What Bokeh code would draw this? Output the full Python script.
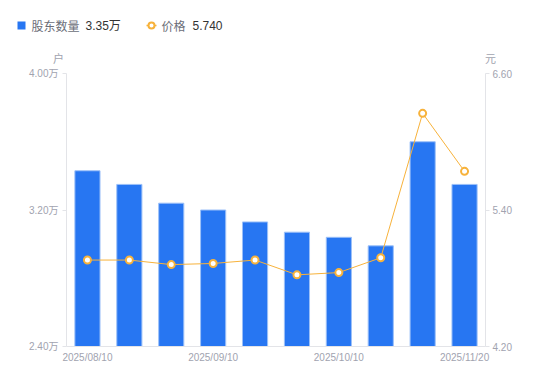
from bokeh.plotting import figure
from bokeh.layouts import column
from bokeh.models import (Range1d, LinearAxis, FixedTicker, PrintfTickFormatter,
                          ColumnDataSource)
from bokeh.core.properties import value
from bokeh.embed import file_html
from bokeh.resources import INLINE

# ---- data ----
dates = ["2025/08/10", "2025/08/20", "2025/08/31", "2025/09/10", "2025/09/19",
         "2025/09/30", "2025/10/10", "2025/10/20", "2025/10/31", "2025/11/20"]
holders = [3.43, 3.35, 3.24, 3.20, 3.13, 3.07, 3.04, 2.99, 3.60, 3.35]   # 万户
price = [4.96, 4.96, 4.92, 4.93, 4.96, 4.83, 4.85, 4.98, 6.25, 5.74]     # 元
left_ticks = [2.40, 3.20, 4.00]
right_ticks = [4.20, 5.40, 6.60]
label_idx = [0, 3, 6, 9]
legend_names = ["股东数量", "价格"]
legend_values = ["3.35万", "5.740"]
units = ["户", "元"]

FONT = "Liberation Sans, Noto Sans CJK SC"
CJK = "Noto Sans CJK SC, Liberation Sans"
GRAY = "#a1a3af"
AXIS = "#e3e4e8"
BLUE = "#2776f2"
ORANGE = "#f7b23b"
W = 545
HEAD_H = 66

# ---- header (legend + unit labels), pixel-space figure ----
h = figure(width=W, height=HEAD_H, output_backend="svg", toolbar_location=None,
           x_range=Range1d(0, W), y_range=Range1d(HEAD_H, 0),
           min_border=0, x_axis_location=None, y_axis_location=None)
h.frame_align = False
h.outline_line_color = None
h.grid.visible = False
h.border_fill_color = "white"

h.quad(left=[17], right=[25], top=[21], bottom=[29], fill_color=BLUE, line_color=None)
h.segment(x0=[146], y0=[25], x1=[156], y1=[25], line_color=ORANGE, line_width=1.5)
h.scatter(x=[151], y=[25], size=6, marker="circle", fill_color="white",
          line_color=ORANGE, line_width=2)
h.text(x=[31, 161], y=[25, 25], text=legend_names, text_font=value(CJK),
       text_font_size="12px", text_color="#6b6e78", text_baseline="middle")
h.text(x=[85, 192], y=[25, 25], text=legend_values, text_font=value(FONT),
       text_font_size="12px", text_color="#333333", text_baseline="middle")
h.text(x=[58, 490], y=[57, 57], text=units, text_font=value(CJK),
       text_font_size="11px", text_color=GRAY, text_baseline="middle",
       text_align="center")

# ---- main chart ----
xs = list(range(len(dates)))
src = ColumnDataSource(dict(x=xs, holders=holders, price=price,
                            bottom=[left_ticks[0]] * len(xs)))

p = figure(width=W, height=312, output_backend="svg", toolbar_location=None,
           x_range=Range1d(-0.5, len(dates) - 0.5),
           y_range=Range1d(left_ticks[0], left_ticks[-1]),
           min_border_left=66, min_border_right=W - 485,
           min_border_top=7, min_border_bottom=32,
           x_axis_location=None, y_axis_location=None)
p.frame_align = False
p.outline_line_color = None
p.grid.visible = False
p.border_fill_color = "white"
p.extra_y_ranges = {"price": Range1d(right_ticks[0], right_ticks[-1])}

p.vbar(x="x", top="holders", bottom="bottom", width=0.6, source=src,
       fill_color=BLUE, line_color="#9cc0f8", line_width=1)
p.line(x="x", y="price", source=src, line_color=ORANGE, line_width=1,
       y_range_name="price")
p.scatter(x="x", y="price", source=src, size=7, marker="circle",
          fill_color="white", line_color=ORANGE, line_width=2,
          y_range_name="price")

def style(ax):
    ax.axis_line_color = AXIS
    ax.major_tick_line_color = AXIS
    ax.minor_tick_line_color = None
    ax.major_label_text_color = GRAY
    ax.major_label_text_font = FONT
    ax.major_label_text_font_size = "10px"

yl = LinearAxis(ticker=FixedTicker(ticks=left_ticks),
                formatter=PrintfTickFormatter(format="%.2f万"))
style(yl)
yl.major_tick_out = 4
yl.major_tick_in = 0
yl.major_label_standoff = 4
p.add_layout(yl, "left")

yr = LinearAxis(y_range_name="price", ticker=FixedTicker(ticks=right_ticks),
                formatter=PrintfTickFormatter(format="%.2f"))
style(yr)
yr.major_tick_out = 4
yr.major_tick_in = 0
yr.major_label_standoff = 3
p.add_layout(yr, "right")

xa = LinearAxis(ticker=FixedTicker(ticks=label_idx),
                major_label_overrides={i: dates[i] for i in label_idx})
style(xa)
xa.major_tick_out = 0
xa.major_tick_in = 0
xa.major_label_standoff = 5
p.add_layout(xa, "below")

layout = column(h, p, spacing=0)
open("out.html", "w").write(file_html(layout, INLINE))
